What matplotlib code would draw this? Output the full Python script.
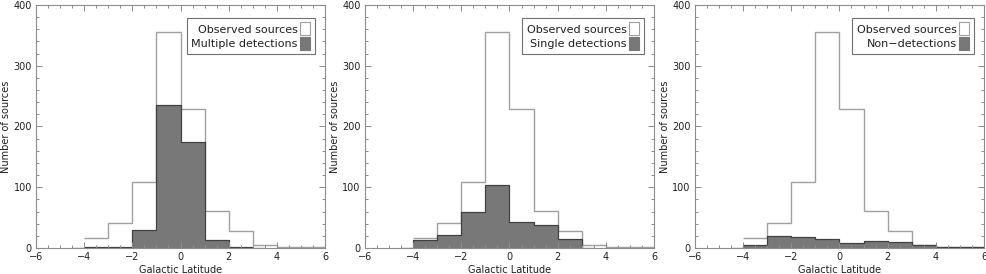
import matplotlib
matplotlib.use('Agg')
import matplotlib.pyplot as plt
from matplotlib.patches import Patch
from matplotlib.ticker import MultipleLocator

# observed sources, bins of 1 deg from -4 to 6
obs_edges = [-4, -3, -2, -1, 0, 1, 2, 3, 4, 5, 6]
observed = [17, 41, 108, 355, 228, 61, 28, 5, 1, 1]

# detection subsets (first bin -4.5..-4 is empty)
sub_edges = [-4.5, -4, -3, -2, -1, 0, 1, 2, 3, 3.5]
multiple = [0, 1, 1, 30, 236, 175, 13, 2, 0]
single = [0, 13, 21, 60, 103, 42, 37, 14, 0]

non_edges = [-4.5, -4, -3, -2, -1, 0, 1, 2, 3, 4, 5, 6]
non_det = [0, 5, 19, 18, 15, 9, 11, 10, 5, 1, 1]

labels = ['Multiple detections', 'Single detections', 'Non\u2212detections']
subsets = [(sub_edges, multiple), (sub_edges, single), (non_edges, non_det)]

axis_col = '#8c8c8c'
obs_col = '#a0a0a0'
fill_col = '#787878'
edge_col = '#404040'
txt_col = '#202020'

plt.rcParams['font.family'] = 'DejaVu Sans'
plt.rcParams['font.size'] = 7

fig = plt.figure(figsize=(9.87, 2.74), dpi=100)
lefts = [0.0365, 0.3698, 0.7041]

for i in range(3):
    ax = fig.add_axes([lefts[i], 0.095, 0.2928, 0.887])
    edges, vals = subsets[i]
    # outline first so the filled subset sits on top of it
    ax.stairs(observed, obs_edges, color=obs_col, lw=1.0, baseline=None)
    ax.stairs(vals, edges, fill=True, facecolor=fill_col, edgecolor=edge_col, lw=0.8)
    ax.stairs(vals, edges, color=edge_col, lw=0.8)

    ax.set_xlim(-6, 6)
    ax.set_ylim(0, 400)
    ax.xaxis.set_major_locator(MultipleLocator(2))
    ax.xaxis.set_minor_locator(MultipleLocator(0.5))
    ax.yaxis.set_major_locator(MultipleLocator(100))
    ax.yaxis.set_minor_locator(MultipleLocator(20))
    ax.tick_params(which='both', direction='in', top=True, right=True,
                   color=axis_col, labelcolor=txt_col, pad=3)
    ax.tick_params(which='major', length=4, width=0.7)
    ax.tick_params(which='minor', length=2, width=0.7)
    for s in ax.spines.values():
        s.set_color(axis_col)
        s.set_linewidth(0.8)

    ax.set_xlabel('Galactic Latitude', color=txt_col, labelpad=2)
    ax.set_ylabel('Number of sources', color=txt_col, labelpad=2)

    handles = [Patch(facecolor='white', edgecolor=obs_col, lw=0.8),
               Patch(facecolor=fill_col, edgecolor=fill_col, lw=0.8)]
    leg = ax.legend(handles, ['Observed sources', labels[i]], loc='upper right',
                    bbox_to_anchor=(0.965, 0.947), markerfirst=False,
                    fancybox=False, framealpha=1, edgecolor='#707070',
                    handlelength=0.95, handleheight=1.45, handletextpad=0.2,
                    labelspacing=0.12, borderpad=0.4, borderaxespad=0,
                    fontsize=8)
    leg.get_frame().set_linewidth(0.8)
    for t in leg.get_texts():
        t.set_color(txt_col)
        t.set_ha('right')

fig.savefig('out.png', dpi=100)
